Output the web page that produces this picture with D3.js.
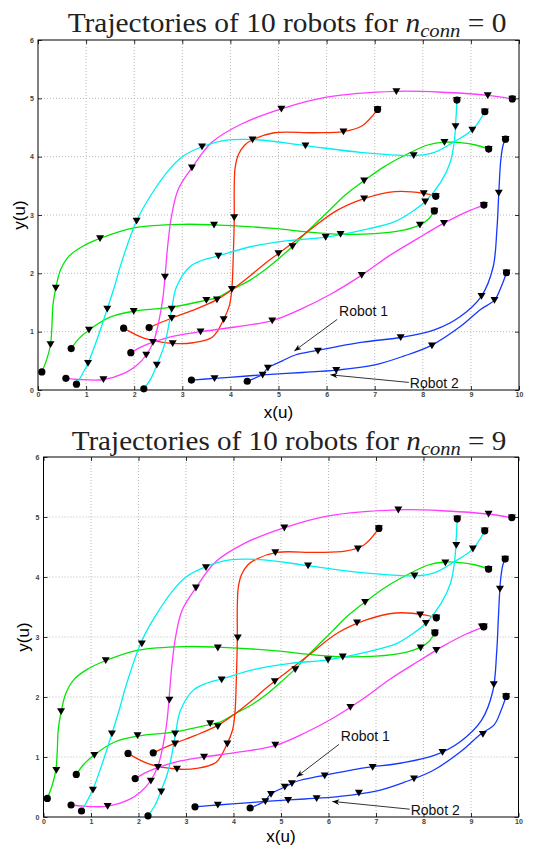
<!DOCTYPE html>
<html><head><meta charset="utf-8">
<script src="https://cdn.jsdelivr.net/npm/d3@7"></script>
<style>body{margin:0;background:#fff}</style>
</head><body>
<svg id="chart" width="534" height="846"></svg>
<script>
// ---------------- DATA ----------------
const xTicks = [0,1,2,3,4,5,6,7,8,9,10];
const yTicks = [0,1,2,3,4,5,6];
const nConn = ["0","9"];

const robotColors = ["#00e600","#00e600","#ff2a00","#ff2a00","#ff3cff","#ff3cff","#00f0f0","#00f0f0","#1438ff","#1438ff"];

// trajectories (x, y) in u
const pathG1 = [[0.08,0.31],[0.18,0.52],[0.26,0.78],[0.29,1.1],[0.31,1.45],[0.37,1.75],[0.47,2.06],[0.64,2.29],[0.92,2.46],[1.29,2.6],[2.0,2.78],[3.0,2.84],[3.66,2.83],[4.9,2.77],[5.6,2.71],[6.29,2.67],[7.0,2.68],[7.6,2.74],[7.94,2.83],[8.12,2.93],[8.24,3.07]];
const pathG2 = [[0.69,0.71],[0.85,0.88],[1.06,1.03],[1.5,1.25],[1.99,1.35],[2.78,1.42],[3.5,1.54],[3.71,1.58],[4.03,1.72],[4.4,1.88],[4.72,2.06],[5.0,2.25],[5.29,2.46],[5.6,2.72],[6.07,3.09],[6.4,3.35],[6.78,3.59],[7.2,3.83],[7.69,4.05],[8.1,4.2],[8.45,4.25],[8.78,4.24],[9.1,4.2],[9.37,4.13]];
const pathR1 = [[2.31,1.07],[2.77,1.23],[3.2,1.36],[3.7,1.54],[4.05,1.73],[4.4,1.95],[4.72,2.17],[5.0,2.34],[5.6,2.71],[6.2,3.07],[6.78,3.28],[7.42,3.4],[8.02,3.37],[8.27,3.32]];
const pathR2 = [[1.78,1.06],[2.2,0.89],[2.8,0.8],[3.22,0.81],[3.63,0.91],[3.86,1.21],[3.98,1.45],[4.03,1.73],[4.06,2.3],[4.08,2.96],[4.08,3.5],[4.1,3.82],[4.17,4.04],[4.3,4.2],[4.46,4.29],[4.91,4.41],[5.73,4.41],[6.35,4.43],[6.74,4.53],[7.06,4.81]];
const pathM1 = [[0.58,0.2],[0.85,0.18],[1.36,0.18],[1.8,0.29],[2.05,0.42],[2.25,0.6],[2.41,0.85],[2.53,1.25],[2.6,1.6],[2.64,1.94],[2.7,2.5],[2.78,3.0],[2.92,3.45],[3.2,3.81],[3.62,4.25],[4.23,4.56],[5.06,4.82],[6.0,5.02],[7.45,5.12],[8.5,5.1],[9.35,5.05],[9.86,4.99]];
const pathM2 = [[1.93,0.64],[2.15,0.74],[2.39,0.82],[2.8,0.92],[3.38,1.0],[4.1,1.08],[4.87,1.19],[5.5,1.4],[6.1,1.65],[6.73,1.97],[7.3,2.3],[7.9,2.6],[8.44,2.86],[8.9,3.05],[9.27,3.17]];
const pathC1 = [[0.8,0.1],[0.92,0.27],[1.04,0.46],[1.25,0.92],[1.44,1.39],[1.6,1.8],[1.73,2.17],[2.05,2.9],[2.34,3.33],[2.74,3.79],[3.0,4.0],[3.41,4.17],[3.89,4.28],[4.57,4.29],[5.56,4.19],[6.74,4.07],[7.81,4.02],[8.23,4.07],[8.64,4.25],[9.03,4.46],[9.29,4.77]];
const pathC2 = [[2.2,0.02],[2.35,0.2],[2.47,0.43],[2.6,0.7],[2.68,0.95],[2.78,1.39],[2.88,1.77],[3.15,2.11],[3.4,2.22],[3.75,2.3],[4.44,2.46],[5.2,2.56],[5.98,2.62],[6.75,2.74],[7.43,2.89],[7.8,3.07],[8.05,3.23],[8.37,3.56],[8.57,3.9],[8.66,4.3],[8.68,4.52],[8.71,4.97]];
const pathB1 = [[4.35,0.15],[4.5,0.2],[4.67,0.27],[4.78,0.38],[5.08,0.5],[5.35,0.6],[5.82,0.68],[6.75,0.82],[7.54,0.9],[8.24,1.03],[8.78,1.26],[9.22,1.61],[9.46,2.1],[9.54,2.74],[9.58,3.38],[9.62,3.93],[9.67,4.2],[9.72,4.3]];
const pathB2 = [[3.19,0.17],[3.67,0.2],[4.35,0.24],[4.67,0.26],[5.5,0.3],[6.2,0.34],[7.0,0.43],[7.6,0.58],[8.19,0.77],[8.8,1.1],[9.2,1.38],[9.49,1.54],[9.63,1.77],[9.74,2.01]];
const paths = [pathG1,pathG2,pathR1,pathR2,pathM1,pathM2,pathC1,pathC2,pathB1,pathB2];

// intermediate triangle markers, n_conn = 0 (top)
const triTop = [
  [[0.26,0.78],[0.37,1.75],[1.29,2.6],[3.66,2.83],[6.29,2.67],[7.94,2.83]],
  [[1.06,1.03],[1.99,1.35],[3.5,1.54],[5.29,2.46],[6.78,3.59],[8.45,4.25]],
  [[2.78,1.23],[3.72,1.55],[5.0,2.34],[6.78,3.28],[8.02,3.37]],
  [[2.8,0.8],[3.86,1.21],[4.03,1.73],[4.08,2.96],[4.46,4.29],[6.35,4.43]],
  [[1.36,0.18],[2.25,0.6],[2.64,1.94],[3.2,3.81],[5.06,4.82],[7.45,5.12],[9.35,5.05]],
  [[2.39,0.82],[3.38,1.0],[4.87,1.19],[6.73,1.97],[8.44,2.86]],
  [[1.04,0.46],[1.44,1.39],[2.05,2.9],[3.41,4.17],[5.56,4.19],[7.81,4.02],[9.03,4.46]],
  [[2.47,0.43],[2.78,1.39],[3.75,2.3],[5.98,2.62],[8.05,3.23],[8.68,4.52]],
  [[4.78,0.38],[5.82,0.67],[7.54,0.9],[9.22,1.61],[9.58,3.38]],
  [[3.67,0.2],[4.67,0.26],[6.2,0.34],[8.19,0.76],[9.49,1.54]]
];
// intermediate triangle markers, n_conn = 9 (bottom)
const triBottom = [
  [[0.27,0.78],[0.37,1.76],[1.31,2.61],[3.67,2.82],[6.3,2.67],[7.94,2.82]],
  [[1.07,1.03],[1.98,1.36],[3.51,1.56],[5.3,2.46],[6.77,3.58],[8.46,4.24]],
  [[2.77,1.22],[3.67,1.51],[4.87,2.26],[6.6,3.24],[7.93,3.37]],
  [[2.81,0.8],[3.87,1.22],[4.09,2.99],[4.88,4.41],[6.62,4.47]],
  [[1.35,0.18],[2.26,0.6],[2.65,1.95],[3.21,3.82],[5.07,4.82],[7.47,5.12],[9.37,5.05]],
  [[2.41,0.83],[3.38,1.0],[4.88,1.2],[6.46,1.83],[8.27,2.78],[9.23,3.17]],
  [[1.04,0.45],[1.44,1.39],[2.07,2.89],[3.42,4.16],[5.57,4.19],[7.81,4.02],[9.04,4.47]],
  [[2.48,0.42],[2.77,1.39],[3.75,2.29],[5.99,2.62],[8.05,3.23],[8.69,4.53]],
  [[4.79,0.38],[5.08,0.5],[5.23,0.56],[5.92,0.69],[6.93,0.83],[8.4,1.08],[9.48,2.21],[9.61,3.8]],
  [[3.67,0.2],[4.67,0.26],[5.15,0.28],[5.75,0.31],[6.64,0.4],[7.8,0.64],[9.25,1.38]]
];
const triSets = [triTop, triBottom];

// annotations: label, text position (x, baseline y), arrow from, arrow to
const annLabels = ["Robot 1","Robot 2"];
const annText = [[6.26,1.27],[7.73,0.04]];
const annFrom = [[6.22,1.21],[7.71,0.13]];
const annTo = [[5.33,0.67],[6.08,0.26]];

// ---------------- LAYOUT ----------------
const svg = d3.select('#chart');
svg.append('rect').attr('width',534).attr('height',846).attr('fill','#fff');
const defs = svg.append('defs');
defs.append('marker').attr('id','ah').attr('viewBox','0 0 10 10').attr('refX',10).attr('refY',5)
  .attr('markerWidth',7).attr('markerHeight',7).attr('markerUnits','userSpaceOnUse').attr('orient','auto')
  .append('path').attr('d','M0,1 L10,5 L0,9 L3,5 Z').attr('fill','#000');

const panels = [
  {left:38, right:519, top:40, bottom:390, titleX:287, titleY:32, titleW:439, xlabY:418, ylabX:25},
  {left:43.5, right:518.5, top:457, bottom:817, titleX:289, titleY:450, titleW:435, xlabY:842, ylabX:29}
];

panels.forEach((p, pi) => {
  const x = d3.scaleLinear().domain([0,10]).range([p.left,p.right]);
  const y = d3.scaleLinear().domain([0,6]).range([p.bottom,p.top]);
  const g = svg.append('g');

  // grid
  const grid = g.append('g').attr('stroke','#a8a8a8').attr('stroke-width',0.8).attr('stroke-dasharray','1,2');
  xTicks.slice(1,-1).forEach(v => grid.append('line').attr('x1',x(v)).attr('x2',x(v)).attr('y1',y(0)).attr('y2',y(6)));
  yTicks.slice(1,-1).forEach(v => grid.append('line').attr('y1',y(v)).attr('y2',y(v)).attr('x1',x(0)).attr('x2',x(10)));

  // axes
  const styleAx = sel => {
    sel.selectAll('.domain').remove();
    sel.selectAll('line').attr('stroke','#000').attr('stroke-width',0.8);
    sel.selectAll('text').style('font-family','Arial, "Liberation Sans", sans-serif').style('font-size','7px')
      .style('font-weight','bold').attr('fill','#444');
  };
  g.append('g').attr('transform',`translate(0,${p.bottom})`)
    .call(d3.axisBottom(x).tickValues(xTicks).tickFormat(d3.format('d')).tickSizeInner(-4).tickSizeOuter(0).tickPadding(2)).call(styleAx);
  g.append('g').attr('transform',`translate(0,${p.top})`)
    .call(d3.axisTop(x).tickValues(xTicks).tickFormat('').tickSizeInner(-4).tickSizeOuter(0)).call(styleAx);
  g.append('g').attr('transform',`translate(${p.left},0)`)
    .call(d3.axisLeft(y).tickValues(yTicks).tickFormat(d3.format('d')).tickSizeInner(-4).tickSizeOuter(0).tickPadding(4)).call(styleAx);
  g.append('g').attr('transform',`translate(${p.right},0)`)
    .call(d3.axisRight(y).tickValues(yTicks).tickFormat('').tickSizeInner(-4).tickSizeOuter(0)).call(styleAx);
  g.append('rect').attr('x',p.left).attr('y',p.top).attr('width',p.right-p.left).attr('height',p.bottom-p.top)
    .attr('fill','none').attr('stroke','#000').attr('stroke-width',1);

  // trajectories
  const line = d3.line().x(d=>x(d[0])).y(d=>y(d[1])).curve(d3.curveCatmullRom.alpha(0.5));
  const lg = g.append('g');
  paths.forEach((path,i) => {
    lg.append('path').attr('d',line(path)).attr('fill','none').attr('stroke',robotColors[i]).attr('stroke-width',1.3);
  });

  // markers
  const tri = (cx,cy) => `M${cx-4},${cy-3.2}L${cx+4},${cy-3.2}L${cx},${cy+3.6}Z`;
  const mg = g.append('g').attr('fill','#000');
  paths.forEach((path,i) => {
    const s = path[0], e = path[path.length-1];
    mg.append('circle').attr('cx',x(s[0])).attr('cy',y(s[1])).attr('r',3.6);
    triSets[pi][i].forEach(t => mg.append('path').attr('d',tri(x(t[0]),y(t[1]))));
    mg.append('circle').attr('cx',x(e[0])).attr('cy',y(e[1])).attr('r',3.6);
    mg.append('path').attr('d',tri(x(e[0]),y(e[1])));
  });

  // annotations
  annLabels.forEach((lab,k) => {
    g.append('line').attr('x1',x(annFrom[k][0])).attr('y1',y(annFrom[k][1]))
      .attr('x2',x(annTo[k][0])).attr('y2',y(annTo[k][1])).attr('stroke','#000').attr('stroke-width',0.8)
      .attr('marker-end','url(#ah)');
    g.append('text').attr('x',x(annText[k][0])).attr('y',y(annText[k][1])).text(lab)
      .style('font-family','Arial, "Liberation Sans", sans-serif').style('font-size','14px').attr('fill','#111');
  });

  // axis labels
  g.append('text').attr('x',(p.left+p.right)/2).attr('y',p.xlabY).attr('text-anchor','middle').text('x(u)')
    .style('font-family','Arial, "Liberation Sans", sans-serif').style('font-size','17px');
  g.append('text').attr('transform',`translate(${p.ylabX},${(p.top+p.bottom)/2}) rotate(-90)`).attr('text-anchor','middle').text('y(u)')
    .style('font-family','Arial, "Liberation Sans", sans-serif').style('font-size','17px');

  // title
  const tg = g.append('g');
  const t = tg.append('text').attr('x',0).attr('y',0).attr('text-anchor','middle')
    .style('font-family','"Liberation Serif", "Times New Roman", serif').style('font-size','27px').attr('fill','#222');
  t.append('tspan').text('Trajectories of 10 robots for ');
  t.append('tspan').style('font-style','italic').text('n');
  t.append('tspan').style('font-style','italic').style('font-size','19px').attr('dy',5).text('conn');
  t.append('tspan').attr('dy',-5).text(' = ' + nConn[pi]);
  const bb = t.node().getBBox();
  const sx = p.titleW / bb.width;
  tg.attr('transform',`translate(${p.titleX},${p.titleY}) scale(${sx},1)`);
});
</script>
</body></html>
